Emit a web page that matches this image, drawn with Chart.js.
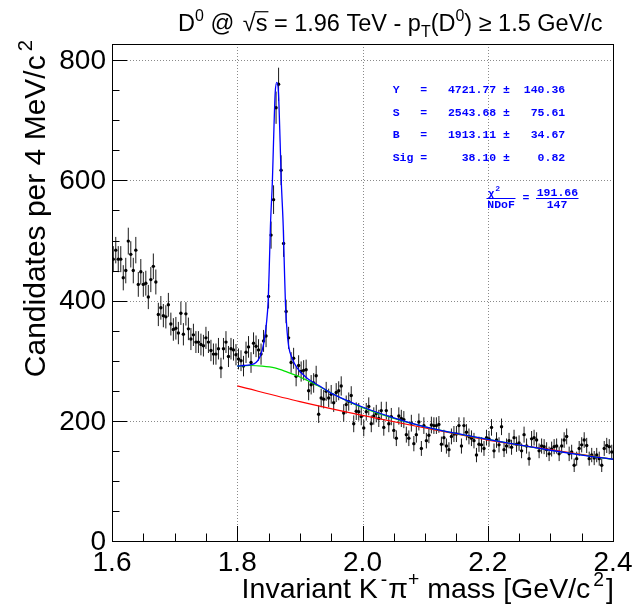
<!DOCTYPE html>
<html><head><meta charset="utf-8">
<script src="https://cdn.jsdelivr.net/npm/chart.js@4/dist/chart.umd.min.js"></script>
<style>html,body{margin:0;padding:0;background:#fff}#wrap{width:632px;height:606px}</style>
</head><body><div id="wrap"><canvas id="c" width="632" height="606"></canvas></div>
<script>
// ---- histogram: 200 bins of 4 MeV from 1.6 to 2.4 GeV ----
const binStart = 1.6, binWidth = 0.004;
const counts = [
469,484,469,469,438,450,499,477,450,484,
427,448,427,429,406,435,457,431,377,388,
375,373,393,361,352,354,346,379,344,378,
353,336,343,331,331,327,325,338,331,317,
311,311,320,288,320,331,307,320,318,310,
303,300,291,314,323,297,329,324,318,311,
333,341,407,509,568,721,760,617,495,382,
338,297,304,274,292,282,284,285,250,260,
263,275,211,238,236,249,238,244,230,247,
250,258,213,227,232,242,195,216,215,207,
188,215,224,195,208,212,204,217,189,217,
195,207,184,171,208,204,202,177,171,196,
162,177,198,154,192,167,176,193,192,192,
194,161,172,158,152,174,178,178,192,158,
192,181,174,171,167,143,161,160,154,172,
170,189,150,168,160,190,152,158,167,156,
172,161,163,150,177,158,137,170,172,168,
150,158,157,152,145,153,157,158,145,158,
168,174,145,148,126,137,154,160,168,159,
137,143,138,143,137,126,154,159,157,148];

// ---- fit curves ----
const totalFitX = [1.800,1.810,1.820,1.830,1.836,1.840,1.8437,1.8464,1.8494,1.8512,1.8530,1.8562,1.8579,1.8606,1.8632,1.8658,1.8685,1.8702,1.8734,1.8752,1.8770,1.8798,1.8821,1.8875,1.8955,1.9115,1.9330,1.9500,2.000,2.050,2.100,2.150,2.200,2.250,2.300,2.350,2.400];
const totalFitY = [291,292,293,297,306,318,338,360,400,458,524,602,663,746,763,746,663,602,524,457,394,346,324,304,288,271,257,246,223,205,190,179,169,160,151,143,136];
const bkgReflX = [1.80,1.82,1.84,1.86,1.88,1.90,1.92,1.94,1.96,1.98,2.00,2.05,2.10,2.20,2.30,2.40];
const bkgReflY = [291,292,291,288,281,273,263,252,241,231,222,204,190,169,151,136];
const bkgX = [1.80,1.90,2.00,2.10,2.20,2.30,2.40];
const bkgY = [258,232,209,188,168,152,136];

// ---- axes ----
const xMin = 1.6, xMax = 2.4, yMin = 0, yMax = 827;
const xTicks = [1.6,1.8,2.0,2.2,2.4];
const xTickLabels = ['1.6','1.8','2.0','2.2','2.4'];
const yTicks = [0,200,400,600,800];
const yTickLabels = ['0','200','400','600','800'];
const xMinorStep = 0.05, yMinorStep = 50;

// ---- fit results box ----
const statsLines = [
  'Y   =   4721.77 \u00b1  140.36',
  'S   =   2543.68 \u00b1   75.61',
  'B   =   1913.11 \u00b1   34.67',
  'Sig =     38.10 \u00b1    0.82'];
const chi2Value = '191.66', ndofValue = '147';

const FONT = '"Liberation Sans", Arial, Helvetica, sans-serif';
const MONO = '"Liberation Mono", "DejaVu Sans Mono", monospace';

function zip(xs, ys){ return xs.map((x,i)=>({x:x, y:ys[i]})); }

function richWidth(ctx, parts, size){
  let w = 0;
  for (const p of parts){
    const s = p.m ? size*0.68 : size;
    ctx.font = s + 'px ' + FONT;
    w += ctx.measureText(p.t).width + (p.g||0);
  }
  return w;
}
function drawRich(ctx, parts, x, y, size, align){
  const w = richWidth(ctx, parts, size);
  let cx = align==='right' ? x-w : (align==='center' ? x-w/2 : x);
  ctx.textAlign = 'left'; ctx.textBaseline = 'alphabetic';
  for (const p of parts){
    const s = p.m ? size*0.68 : size;
    ctx.font = s + 'px ' + FONT;
    const dy = p.m===1 ? -size*0.42 : (p.m===2 ? size*0.25 : 0);
    const tw = ctx.measureText(p.t).width;
    ctx.fillText(p.t, cx, y+dy);
    if (p.over){
      ctx.save(); ctx.lineWidth = 1.2; ctx.strokeStyle = ctx.fillStyle;
      ctx.beginPath(); ctx.moveTo(cx-1, y-size*0.82); ctx.lineTo(cx+tw+1, y-size*0.82); ctx.stroke();
      ctx.restore();
    }
    cx += tw + (p.g||0);
  }
}

const rootPlugin = {
  id: 'rootStyle',
  beforeDraw(chart){
    const ctx = chart.ctx;
    ctx.save(); ctx.fillStyle = '#fff'; ctx.fillRect(0,0,chart.width,chart.height); ctx.restore();
  },
  beforeDatasetsDraw(chart){
    const {ctx, chartArea:a, scales:{x, y}} = chart;
    ctx.save();
    ctx.strokeStyle = '#8a8a8a'; ctx.lineWidth = 1; ctx.setLineDash([1,2]);
    for (const v of xTicks){
      if (v<=xMin || v>=xMax) continue;
      const px = Math.round(x.getPixelForValue(v))+0.5;
      ctx.beginPath(); ctx.moveTo(px, a.top); ctx.lineTo(px, a.bottom); ctx.stroke();
    }
    for (const v of yTicks){
      if (v<=yMin) continue;
      const py = Math.round(y.getPixelForValue(v))+0.5;
      ctx.beginPath(); ctx.moveTo(a.left, py); ctx.lineTo(a.right, py); ctx.stroke();
    }
    ctx.restore();
  },
  beforeDatasetDraw(chart, args){
    if (args.index !== 3) return;
    const {ctx, scales:{x, y}} = chart;
    ctx.save(); ctx.strokeStyle = '#1a1a1a'; ctx.lineWidth = 1;
    const meta = chart.getDatasetMeta(3);
    meta.data.forEach((pt, i) => {
      const c = counts[i], e = Math.sqrt(c);
      const px = pt.x;
      ctx.beginPath();
      ctx.moveTo(px, y.getPixelForValue(c+e));
      ctx.lineTo(px, y.getPixelForValue(c-e));
      ctx.stroke();
    });
    ctx.restore();
  },
  afterDatasetsDraw(chart){
    const {ctx, chartArea:a, scales:{x, y}} = chart;
    ctx.save();
    // frame
    ctx.strokeStyle = '#000'; ctx.lineWidth = 1; ctx.setLineDash([]);
    ctx.strokeRect(Math.round(a.left)+0.5, Math.round(a.top)+0.5, Math.round(a.right-a.left), Math.round(a.bottom-a.top));
    // ticks
    ctx.beginPath();
    for (let k=0; ; k++){
      const v = xMin + k*xMinorStep; if (v > xMax+1e-9) break;
      const px = Math.round(x.getPixelForValue(v))+0.5;
      const major = xTicks.some(t=>Math.abs(t-v)<1e-6);
      ctx.moveTo(px, a.bottom); ctx.lineTo(px, a.bottom - (major?15:7.5));
    }
    for (let k=0; ; k++){
      const v = yMin + k*yMinorStep; if (v > yMax) break;
      const py = Math.round(y.getPixelForValue(v))+0.5;
      const major = yTicks.some(t=>Math.abs(t-v)<1e-6);
      ctx.moveTo(a.left, py); ctx.lineTo(a.left + (major?15:7.5), py);
    }
    ctx.stroke();
    // tick labels
    ctx.fillStyle = '#000';
    ctx.font = '28px ' + FONT;
    ctx.textAlign = 'right'; ctx.textBaseline = 'middle';
    yTicks.forEach((v,i)=> ctx.fillText(yTickLabels[i], 106, y.getPixelForValue(v)+1));
    ctx.textAlign = 'center'; ctx.textBaseline = 'alphabetic';
    xTicks.forEach((v,i)=> ctx.fillText(xTickLabels[i], x.getPixelForValue(v), 571));
    // x title
    drawRich(ctx, [{t:'Invariant K', g:3},{t:'-', m:1, g:1},{t:'\u03c0'},{t:'+', m:1},{t:' mass [GeV/c', g:3},{t:'2', m:1, g:2},{t:']'}], 614, 598, 28.5, 'right');
    // y title (rotated)
    ctx.save();
    ctx.translate(45, 40); ctx.rotate(-Math.PI/2);
    drawRich(ctx, [{t:'Candidates per 4 MeV/c', g:4},{t:'2', m:1}], 0, 0, 30, 'right');
    ctx.restore();
    // main title
    drawRich(ctx, [{t:'D'},{t:'0', m:1},{t:' @ ', g:2},{t:'\u221a'},{t:'s', over:true},{t:' = 1.96 TeV - p'},{t:'T', m:2},{t:'(D'},{t:'0', m:1},{t:') \u2265 1.5 GeV/c'}], 178, 31, 23.5, 'left');
    // stats box
    ctx.fillStyle = '#0000ff';
    ctx.font = 'bold 11.5px ' + MONO;
    ctx.textAlign = 'left'; ctx.textBaseline = 'middle';
    const rowsY = [90, 112.7, 135, 158.3];
    statsLines.forEach((s,i)=> ctx.fillText(s, 392.7, rowsY[i]));
    // chi2 / ndf fraction
    ctx.font = 'bold 11px ' + FONT;
    ctx.fillText('\u03c7', 488, 193.5);
    ctx.font = 'bold 8px ' + FONT;
    ctx.fillText('2', 495.5, 189);
    ctx.font = 'bold 11.5px ' + MONO;
    ctx.fillText('NDoF', 487.3, 204.8);
    ctx.fillText('=', 522.5, 198.5);
    ctx.fillText(chi2Value, 536.7, 192.8);
    ctx.fillText(ndofValue, 546.7, 204.8);
    ctx.strokeStyle = '#0000ff'; ctx.lineWidth = 1;
    ctx.beginPath();
    ctx.moveTo(486.5, 198.5); ctx.lineTo(515.5, 198.5);
    ctx.moveTo(536, 198.5); ctx.lineTo(578.5, 198.5);
    ctx.stroke();
    ctx.restore();
  }
};

const histPoints = counts.map((c,i)=>({x: binStart + (i+0.5)*binWidth, y: c}));

new Chart(document.getElementById('c'), {
  type: 'scatter',
  data: { datasets: [
    { label:'Total fit', data: zip(totalFitX, totalFitY), showLine:true, borderColor:'#0000ff', borderWidth:1.3, pointRadius:0, cubicInterpolationMode:'monotone', order:0 },
    { label:'Background + reflection', data: zip(bkgReflX, bkgReflY), showLine:true, borderColor:'#00e000', borderWidth:1.2, pointRadius:0, cubicInterpolationMode:'monotone', order:1 },
    { label:'Background', data: zip(bkgX, bkgY), showLine:true, borderColor:'#ff0000', borderWidth:1.2, pointRadius:0, cubicInterpolationMode:'monotone', order:2 },
    { label:'Data', data: histPoints, showLine:false, pointRadius:1.7, pointBackgroundColor:'#000', pointBorderWidth:0, pointBorderColor:'#000', order:3 }
  ]},
  options: {
    responsive:false, animation:false, events:[],
    layout:{ padding:{ left:112, right:19, top:44, bottom:65 } },
    scales:{
      x:{ type:'linear', min:xMin, max:xMax, display:false },
      y:{ type:'linear', min:yMin, max:yMax, display:false }
    },
    plugins:{ legend:{display:false}, tooltip:{enabled:false}, title:{display:false} }
  },
  plugins:[rootPlugin]
});
</script>
</body></html>
